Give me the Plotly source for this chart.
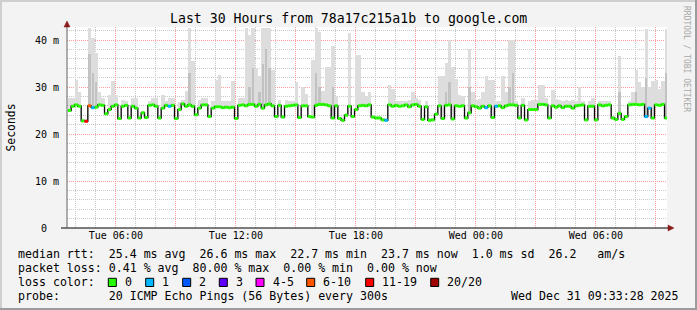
import plotly.graph_objects as go
import pandas as pd

# ---------------- data ----------------
start_time = "2025-12-30 03:36:00"
step_minutes = 10
range_start = "2025-12-30 03:33:28"
range_end = "2025-12-31 09:33:28"

median_ms = [
    25.0, 25.9, 26.2, 25.9, 22.8, 22.7, 26.0, 25.6, 25.7, 26.2,
    26.1, 24.3, 25.2, 25.9, 26.2, 23.3, 25.9, 26.1, 23.4, 25.9,
    25.5, 23.4, 24.5, 23.5, 26.1, 26.2, 25.9, 23.4, 25.5, 26.1,
    25.9, 26.1, 23.3, 25.2, 26.4, 25.9, 26.2, 25.9, 24.1, 25.5,
    26.2, 26.2, 23.7, 25.5, 25.8, 25.8, 25.6, 25.7, 25.6, 25.7,
    23.3, 26.1, 26.2, 26.0, 26.3, 26.3, 25.9, 26.3, 25.5, 26.2,
    26.4, 26.0, 23.7, 26.1, 23.6, 25.9, 26.0, 26.1, 26.2, 23.5,
    26.0, 26.0, 23.7, 23.6, 26.1, 26.3, 26.3, 26.2, 26.0, 23.4,
    26.0, 23.3, 22.9, 24.0, 25.9, 23.7, 25.2, 26.0, 26.1, 26.0,
    26.2, 23.6, 23.4, 23.4, 23.0, 22.9, 26.2, 25.9, 26.1, 25.9,
    26.0, 26.2, 25.8, 26.2, 26.3, 25.9, 23.1, 25.8, 22.9, 23.0,
    24.2, 26.0, 23.3, 26.1, 26.2, 23.2, 26.0, 25.9, 26.0, 23.4,
    24.5, 26.0, 25.8, 25.5, 25.9, 25.6, 26.0, 23.5, 25.9, 26.0,
    25.6, 26.0, 26.2, 26.2, 26.1, 23.4, 26.1, 23.0, 25.2, 25.2,
    25.2, 26.3, 26.3, 26.2, 23.4, 26.0, 25.7, 26.0, 25.6, 25.9,
    25.9, 25.5, 26.0, 26.1, 26.2, 23.0, 25.9, 25.9, 23.0, 26.2,
    26.0, 26.1, 26.2, 23.4, 23.1, 24.4, 23.1, 23.7, 26.2, 26.3,
    26.3, 26.2, 26.3, 23.7, 25.5, 23.4, 26.2, 26.1, 26.3, 23.4,
]

smoke_max_ms = [
    27.7, 27.7, 31.5, 29.0, 23.2, 23.1, 42.5, 40.4, 37.2, 29.0,
    27.7, 24.7, 28.2, 31.3, 28.2, 23.7, 27.3, 27.0, 23.8, 27.7,
    27.7, 23.8, 24.9, 23.9, 27.0, 27.7, 27.7, 23.8, 28.3, 27.0,
    27.7, 27.7, 23.7, 26.8, 27.3, 29.1, 42.5, 35.5, 24.5, 27.3,
    27.7, 27.7, 24.1, 27.0, 31.5, 32.6, 27.0, 27.0, 27.0, 31.3,
    23.7, 27.7, 27.7, 42.5, 41.0, 42.5, 34.0, 32.3, 42.5, 42.5,
    42.5, 33.7, 24.1, 27.3, 24.0, 27.3, 27.0, 27.0, 31.0, 23.9,
    30.0, 28.6, 24.1, 35.8, 42.5, 41.8, 29.1, 34.2, 34.2, 38.7,
    28.0, 23.7, 23.3, 24.4, 41.5, 24.1, 36.8, 36.8, 29.0, 28.0,
    29.0, 24.0, 23.8, 23.8, 23.4, 23.3, 30.5, 29.5, 27.0, 27.0,
    27.0, 27.0, 27.3, 29.0, 27.7, 27.3, 23.5, 27.0, 23.3, 23.4,
    24.6, 32.3, 32.3, 35.1, 40.0, 34.2, 31.8, 28.3, 28.0, 23.8,
    38.0, 29.0, 27.3, 27.5, 29.0, 32.3, 31.5, 31.5, 27.0, 27.0,
    32.3, 29.0, 40.0, 40.0, 27.0, 23.8, 27.7, 23.4, 27.0, 27.3,
    27.3, 30.5, 30.5, 27.7, 23.8, 29.4, 27.5, 27.3, 27.0, 27.3,
    27.0, 27.3, 27.0, 30.0, 27.0, 23.4, 27.0, 27.7, 23.4, 27.0,
    27.0, 27.0, 27.0, 23.8, 23.5, 36.5, 23.5, 24.1, 27.0, 29.0,
    33.7, 31.0, 30.0, 42.3, 30.0, 31.3, 31.5, 29.5, 31.3, 42.3,
]

dark_smoke_idx = [6, 7, 8, 36, 54, 55, 57, 58, 59, 60, 74, 75, 79,
                  113, 114, 120, 132, 133, 165, 170, 173, 179]
dark_smoke_top_ms = [37, 33, 31, 33, 30, 34, 29, 35, 38, 34, 33, 30, 30,
                     29, 31, 30, 30, 33, 29, 29, 32, 33]

loss_point_idx = [5, 6, 7, 30, 95, 125, 128, 173, 174]
loss_point_cat = ["11-19", "6-10", "1", "1", "1", "1", "1", "1", "1"]

loss_labels = ["0", "1", "2", "3", "4-5", "6-10", "11-19", "20/20"]
loss_colors = ["#26ff00", "#00b8ff", "#0059ff", "#5e00ff", "#ff00fe",
               "#ff5500", "#ff0000", "#a10000"]

y_tick_vals = [0, 10, 20, 30, 40]
y_tick_text = ["0\u00a0\u00a0", "10 m", "20 m", "30 m", "40 m"]
x_tick_text = ["", "Tue 06:00", "", "Tue 12:00", "", "Tue 18:00", "",
               "Wed 00:00", "", "Wed 06:00", ""]

title_text = "Last 30 Hours from 78a17c215a1b to google.com"
legend_row1 = "median rtt:  25.4 ms avg  26.6 ms max  22.7 ms min  23.7 ms now  1.0 ms sd  26.2   am/s"
legend_row2 = "packet loss: 0.41 % avg  80.00 % max  0.00 % min  0.00 % now"
legend_row3 = "loss color:"
legend_row4 = "probe:       20 ICMP Echo Pings (56 Bytes) every 300s"
stamp_text = "Wed Dec 31 09:33:28 2025"

# ---------------- build ----------------
FONT = "DejaVu Sans Mono"
n = len(median_ms)
step = pd.Timedelta(minutes=step_minutes)
t0 = pd.Timestamp(start_time)
times = [t0 + step * i for i in range(n)]
centers = [t + step / 2 for t in times]

L, R, T, B = 67, 30, 27, 82
W, H = 697, 310
PW, PH = W - L - R, H - T - B


def px(x):
    return (x - L) / PW


def py(y):
    return (T + PH - y) / PH


fig = go.Figure()

# light smoke
fig.add_trace(go.Bar(
    x=centers, base=median_ms,
    y=[max(h - m, 0) for h, m in zip(smoke_max_ms, median_ms)],
    width=step.total_seconds() * 1000, marker=dict(color="#dddddd", line=dict(width=0)),
    hoverinfo="skip"))
# darker smoke core
fig.add_trace(go.Bar(
    x=[centers[i] for i in dark_smoke_idx],
    base=[median_ms[i] for i in dark_smoke_idx],
    y=[top - median_ms[i] for i, top in zip(dark_smoke_idx, dark_smoke_top_ms)],
    width=step.total_seconds() * 1000 * 0.7, marker=dict(color="#c2c2c2", line=dict(width=0)),
    hoverinfo="skip"))

# black step median
fig.add_trace(go.Scatter(
    x=times + [times[-1] + step], y=median_ms + [median_ms[-1]],
    mode="lines", line=dict(color="#000000", width=1.3, shape="hv"),
    hoverinfo="skip"))

# coloured segments by loss
point_cat = ["0"] * n
for i, c in zip(loss_point_idx, loss_point_cat):
    point_cat[i] = c
for lab, col in zip(loss_labels, loss_colors):
    xs, ys = [], []
    for i in range(n):
        if point_cat[i] == lab:
            xs += [times[i], times[i] + step, None]
            ys += [median_ms[i], median_ms[i], None]
    if xs:
        fig.add_trace(go.Scatter(x=xs, y=ys, mode="lines",
                                 line=dict(color=col, width=3),
                                 hoverinfo="skip"))

tick_vals = list(pd.date_range("2025-12-30 03:00", "2025-12-31 09:00", freq="3h"))

fig.update_layout(
    width=W, height=H,
    margin=dict(l=L, r=R, t=T, b=B, pad=0),
    paper_bgcolor="#f3f3f3", plot_bgcolor="#ffffff",
    showlegend=False, barmode="overlay", bargap=0,
    font=dict(family=FONT, size=10, color="#000000"),
    xaxis=dict(
        type="date", range=[range_start, range_end],
        tickmode="array", tickvals=tick_vals, ticktext=x_tick_text,
        showgrid=True, gridcolor="#ff9c9c", griddash="1px,1px", gridwidth=1,
        minor=dict(dtick=3600000, tick0="2025-12-30 00:00", showgrid=True,
                   gridcolor="#c8c8c8", griddash="1px,1px", gridwidth=1),
        showline=False, zeroline=False, ticks="",
        tickfont=dict(family=FONT, size=10, color="#000000"),
        fixedrange=True,
    ),
    yaxis=dict(
        range=[0, PH / 4.7], tickmode="array", tickvals=y_tick_vals, ticktext=y_tick_text,
        showgrid=True, gridcolor="#ff9c9c", griddash="1px,1px", gridwidth=1,
        minor=dict(dtick=2, tick0=0, showgrid=True, gridcolor="#c8c8c8",
                   griddash="1px,1px", gridwidth=1),
        showline=False, zeroline=False, ticks="", ticklabelstandoff=7,
        tickfont=dict(family=FONT, size=10, color="#000000"),
        fixedrange=True,
    ),
)

shapes = []
# frame
shapes.append(dict(type="line", xref="paper", yref="paper", x0=px(0), x1=px(W), y0=py(1), y1=py(1),
                   line=dict(color="#cfcfcf", width=2)))
shapes.append(dict(type="line", xref="paper", yref="paper", x0=px(1), x1=px(1), y0=py(0), y1=py(H),
                   line=dict(color="#cfcfcf", width=2)))
shapes.append(dict(type="line", xref="paper", yref="paper", x0=px(0), x1=px(W), y0=py(H - 1), y1=py(H - 1),
                   line=dict(color="#9c9c9c", width=2)))
shapes.append(dict(type="line", xref="paper", yref="paper", x0=px(W - 1), x1=px(W - 1), y0=py(0), y1=py(H),
                   line=dict(color="#9c9c9c", width=2)))
# axes
shapes.append(dict(type="line", xref="paper", yref="paper", x0=px(61), x1=px(669), y0=0, y1=0,
                   line=dict(color="#000000", width=1.2), layer="above"))
shapes.append(dict(type="line", xref="paper", yref="paper", x0=0, x1=0, y0=0, y1=py(25),
                   line=dict(color="#606060", width=1), layer="above"))
# arrows
shapes.append(dict(type="path", xref="paper", yref="paper",
                   path=f"M {px(64)} {py(27)} L {px(70)} {py(27)} L {px(67)} {py(21)} Z",
                   fillcolor="#8b1a1a", line=dict(color="#8b1a1a", width=0.5), layer="above"))
shapes.append(dict(type="path", xref="paper", yref="paper",
                   path=f"M {px(668)} {py(225)} L {px(668)} {py(231)} L {px(674)} {py(228)} Z",
                   fillcolor="#8b1a1a", line=dict(color="#8b1a1a", width=0.5), layer="above"))

annotations = []
annotations.append(dict(text=title_text, xref="paper", yref="paper", x=px(348), y=py(19),
                        xanchor="center", yanchor="middle", showarrow=False,
                        font=dict(family=FONT, size=13.2, color="#000000")))
annotations.append(dict(text="Seconds", xref="paper", yref="paper", x=px(10), y=py(127.5),
                        xanchor="center", yanchor="middle", textangle=-90, showarrow=False,
                        font=dict(family=FONT, size=11.4, color="#000000")))
annotations.append(dict(text="RRDTOOL / TOBI OETIKER", xref="paper", yref="paper", x=px(687), y=py(59),
                        xanchor="center", yanchor="middle", textangle=90, showarrow=False,
                        font=dict(family=FONT, size=8, color="#a8a8a8")))
LS = 11.6
rows = [(legend_row1, 254.3), (legend_row2, 268.3), (legend_row3, 282.3), (legend_row4, 295.7)]
for txt, yy in rows:
    annotations.append(dict(text=txt.replace(" ", "\u00a0"), xref="paper", yref="paper",
                            x=px(16), y=py(yy), xanchor="left", yanchor="middle",
                            showarrow=False, font=dict(family=FONT, size=LS, color="#000000")))
annotations.append(dict(text=stamp_text.replace(" ", "\u00a0"), xref="paper", yref="paper",
                        x=px(681), y=py(295.7), xanchor="right", yanchor="middle",
                        showarrow=False, font=dict(family=FONT, size=LS, color="#000000")))

box_left = [108.3, 145.7, 182.7, 219.3, 256.0, 306.7, 365.7, 430.7]
for bl, lab, col in zip(box_left, loss_labels, loss_colors):
    shapes.append(dict(type="rect", xref="paper", yref="paper",
                       x0=px(bl), x1=px(bl + 8), y0=py(278.3), y1=py(286.5),
                       fillcolor=col, line=dict(color="#000000", width=1)))
    annotations.append(dict(text=lab, xref="paper", yref="paper", x=px(bl + 14.5), y=py(282.3),
                            xanchor="left", yanchor="middle", showarrow=False,
                            font=dict(family=FONT, size=LS, color="#000000")))

fig.update_layout(shapes=shapes, annotations=annotations)
fig.write_html("out.html")
